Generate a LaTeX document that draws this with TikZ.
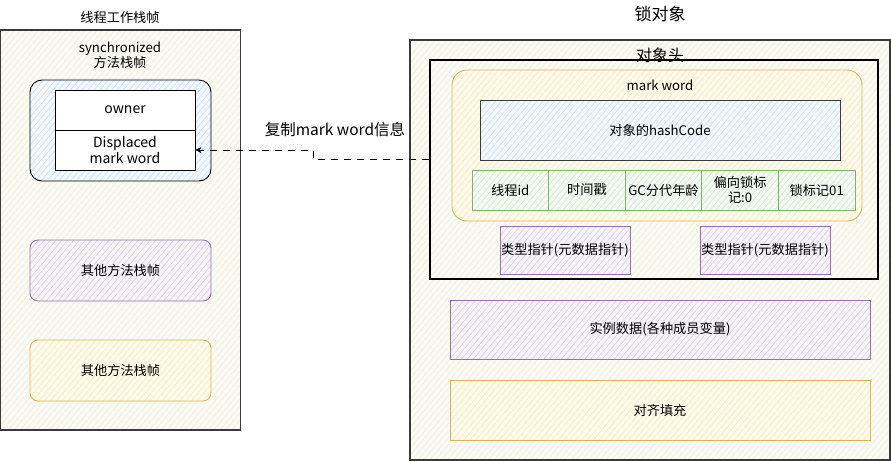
\documentclass[tikz,border=0pt]{standalone}
\usepackage{fontspec}
\setmainfont{Noto Sans CJK SC}
\usepackage{tikz}
\usetikzlibrary{arrows.meta,patterns.meta}

\definecolor{edgegray}{HTML}{3A3A3A}
\definecolor{bgfill}{HTML}{EFECD8}
\definecolor{bluefill}{HTML}{C9DDF5}
\definecolor{purplefill}{HTML}{D9CCE3}
\definecolor{purpleline}{HTML}{9673A6}
\definecolor{yellowfill}{HTML}{FBE9B0}
\definecolor{yellowline}{HTML}{D6B656}
\definecolor{greenfill}{HTML}{CFE6C9}
\definecolor{greenline}{HTML}{82B366}

\tikzset{
  hatch/.style={preaction={fill=#1!22}, pattern={Lines[angle=50,distance=4.5pt,line width=.6pt]}, pattern color=#1},
  frame/.style={draw=edgegray, line width=1.1pt, hatch=bgfill},
  box/.style={inner sep=0pt, align=center, line width=.9pt},
  pbox/.style={box, draw=purpleline, hatch=purplefill},
  ybox/.style={box, draw=yellowline, hatch=yellowfill},
  gbox/.style={box, draw=greenline, hatch=greenfill, minimum width=76.6pt, minimum height=40pt},
  cell/.style={box, draw=black, fill=white, minimum width=140pt, minimum height=40pt},
}

\begin{document}
\begin{tikzpicture}[x=1pt, y=-1pt, font=\fontsize{13.2pt}{15pt}\selectfont]
  \useasboundingbox (0,0) rectangle (891,461);

  % thread stack
  \node[frame, minimum width=240pt, minimum height=400pt] (lframe) at (120.5,230) {};
  \node (ltitle) at (120,17) {线程工作栈帧};
  \node[align=center] (synctxt) at (120,55) {synchronized\\方法栈帧};
  \node[box, draw=black, rounded corners=12pt, hatch=bluefill,
        minimum width=181pt, minimum height=101pt] (syncbox) at (120.5,130.5) {};
  \node[cell, font=\fontsize{14pt}{16pt}\selectfont] (owner) at (125,110) {owner};
  \node[cell, font=\fontsize{14pt}{16pt}\selectfont] (dmw) at (125,150) {Displaced\\mark word};
  \node[pbox, rounded corners=8pt, minimum width=181pt, minimum height=61pt] (other1) at (120.5,270.5) {其他方法栈帧};
  \node[ybox, rounded corners=8pt, minimum width=181pt, minimum height=61pt] (other2) at (120.5,370.5) {其他方法栈帧};

  % lock object
  \node[frame, minimum width=480pt, minimum height=420pt] (rframe) at (650,250) {};
  \node[font=\fontsize{17pt}{19pt}\selectfont] (rtitle) at (660,14) {锁对象};
  \node[draw=black, line width=1.1pt, minimum width=448pt, minimum height=219pt] (hdr) at (654,169.5) {};
  \node[font=\fontsize{16pt}{18pt}\selectfont] (hdrtxt) at (660,55) {对象头};
  \node[ybox, rounded corners=15pt, minimum width=410pt, minimum height=151pt] (mw) at (657,145.5) {};
  \node (mwtxt) at (660,85) {mark word};
  \node[box, draw=edgegray, hatch=bluefill, minimum width=360pt, minimum height=60pt] (hash) at (660,130) {对象的hashCode};
  \foreach \i/\t in {1/线程id, 2/时间戳, 3/GC分代年龄, 4/{偏向锁标\\记:0}, 5/锁标记01} {
    \node[gbox] (bit\i) at ({472+76.6*(\i-0.5)},190) {\t};
  }
  \node[pbox, minimum width=130pt, minimum height=48pt] (ptr1) at (565,250) {类型指针(元数据指针)};
  \node[pbox, minimum width=130pt, minimum height=48pt] (ptr2) at (765,250) {类型指针(元数据指针)};
  \node[pbox, minimum width=420pt, minimum height=59pt] (inst) at (660,329.5) {实例数据(各种成员变量)};
  \node[ybox, minimum width=420pt, minimum height=60pt] (pad) at (660,410) {对齐填充};

  % copy arrow
  \coordinate (src) at (hdr.west |- 0,159);
  \draw[line width=1pt, dash pattern=on 7pt off 6pt, -{Stealth[open, length=6pt, width=6pt]}]
    (src) -- ++(-116,0) |- (dmw.east);
  \node[font=\fontsize{15.5pt}{18pt}\selectfont] (copytxt) at (335,130) {复制mark word信息};
\end{tikzpicture}
\end{document}
